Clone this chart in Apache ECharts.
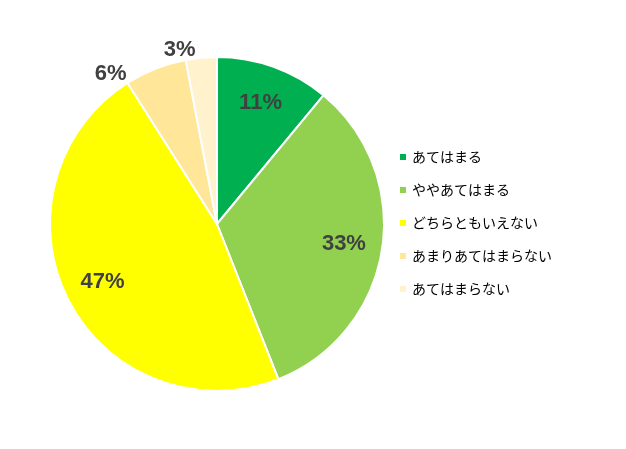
<!DOCTYPE html>
<html>
<head>
<meta charset="utf-8">
<script src="https://cdn.jsdelivr.net/npm/echarts@6/dist/echarts.min.js"></script>
</head>
<body style="margin:0">
<div id="main" style="width:626px;height:449px;"></div>
<script>
var categories = ['あてはまる', 'ややあてはまる', 'どちらともいえない', 'あまりあてはまらない', 'あてはまらない'];
var values = [11, 33, 47, 6, 3];
var colors = ['#00b050', '#92d050', '#ffff00', '#ffe699', '#fff2cc'];

var chart = echarts.init(document.getElementById('main'));
var font = '"Noto Sans CJK JP", sans-serif';
var pieData = categories.map(function (c, i) {
  return { name: c, value: values[i], itemStyle: { color: colors[i] } };
});
var labelData = categories.map(function (c, i) {
  var outside = values[i] < 10;
  return {
    name: c, value: values[i],
    label: outside ? { position: 'outside', distance: 4 } : { position: 'inside' },
    labelLine: { show: false, length: 8, length2: 0 }
  };
});
chart.setOption({
  animation: false,
  color: colors,
  legend: {
    orient: 'vertical', left: 393, top: 145,
    itemWidth: 8, itemHeight: 8, itemGap: 19, icon: 'rect',
    textStyle: { fontSize: 14, color: '#000', fontFamily: font },
    data: categories
  },
  series: [{
    type: 'pie', center: [217, 224], radius: [0, 167],
    startAngle: 90, clockwise: true,
    itemStyle: { borderColor: '#fff', borderWidth: 2 },
    label: { show: false }, labelLine: { show: false },
    data: pieData
  }, {
    type: 'pie', center: [217, 224], radius: [84, 167],
    startAngle: 90, clockwise: true, silent: true,
    legendHoverLink: false,
    itemStyle: { color: 'transparent' },
    label: {
      show: true, formatter: '{c}%', fontSize: 22, fontWeight: 'bold',
      color: '#404040', fontFamily: 'Arial, "Liberation Sans", sans-serif'
    },
    labelLine: { show: false },
    data: labelData
  }]
});
</script>
</body>
</html>
